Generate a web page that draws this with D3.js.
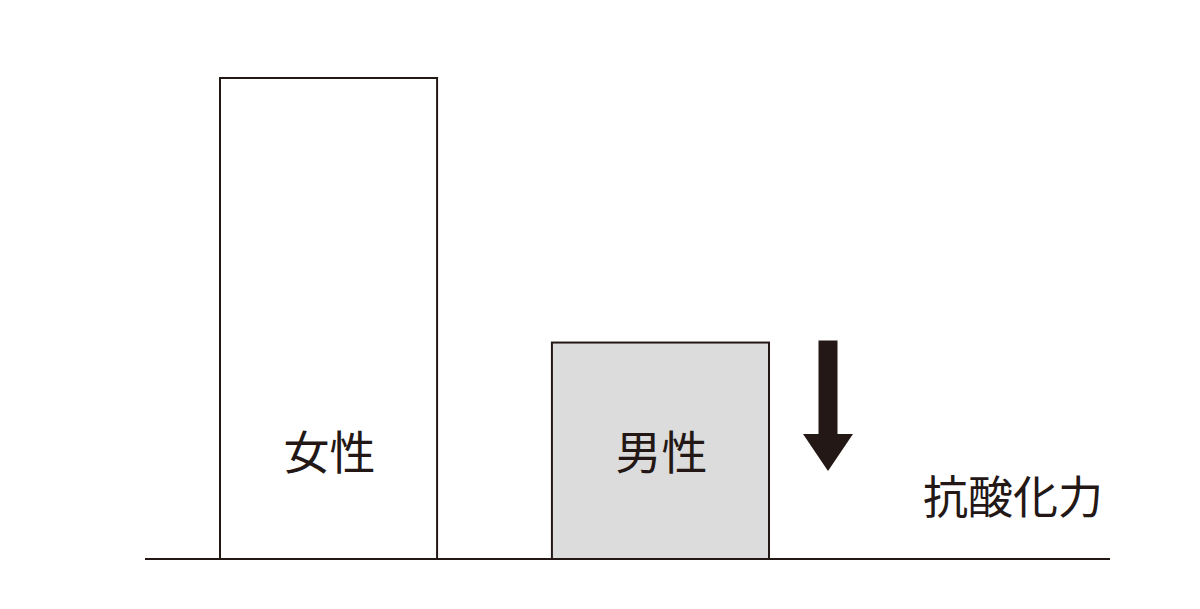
<!DOCTYPE html>
<html>
  <head>
    <meta charset="utf-8">
    <script src="https://d3js.org/d3.v7.min.js"></script>
    <style>
      html, body { margin: 0; padding: 0; background: #fff; }
      text { font-family: "Noto Sans CJK JP", "Noto Sans", sans-serif; fill: #231815; }
    </style>
  </head>
  <body>
    <div id="chart"></div>
    <script>
      // data
      const categories = ["女性", "男性"];
      const values = [100, 45];
      const fills = ["#ffffff", "#dcdcdc"];
      const axisLabel = "抗酸化力";

      const W = 1200, H = 609;
      const baseY = 559, topY = 78;

      const svg = d3.select("#chart").append("svg")
        .attr("width", W)
        .attr("height", H);

      const x = d3.scaleBand()
        .domain(categories)
        .range([220, 769])
        .paddingInner(0.346)
        .paddingOuter(0);

      const y = d3.scaleLinear()
        .domain([0, d3.max(values)])
        .range([baseY, topY]);

      const rows = categories.map((c, i) => ({ cat: c, value: values[i], fill: fills[i] }));

      // bars
      svg.selectAll("rect.bar")
        .data(rows)
        .enter()
        .append("rect")
        .attr("class", "bar")
        .attr("x", d => x(d.cat))
        .attr("y", d => y(d.value))
        .attr("width", x.bandwidth())
        .attr("height", d => baseY - y(d.value))
        .attr("fill", d => d.fill)
        .attr("stroke", "#231815")
        .attr("stroke-width", 2);

      // category labels inside the bars
      svg.selectAll("text.cat")
        .data(rows)
        .enter()
        .append("text")
        .attr("class", "cat")
        .attr("x", d => x(d.cat) + x.bandwidth() / 2 + 1)
        .attr("y", 469)
        .attr("text-anchor", "middle")
        .style("font-size", "46px")
        .text(d => d.cat);

      // baseline
      svg.append("line")
        .attr("x1", 145).attr("x2", 1110)
        .attr("y1", baseY).attr("y2", baseY)
        .attr("stroke", "#231815")
        .attr("stroke-width", 2);

      // down arrow next to the second bar
      const ax = x(categories[1]) + x.bandwidth() + 59;
      const arrowTop = y(values[1]) - 2;
      svg.append("path")
        .attr("d", `M${ax - 9.5},${arrowTop} L${ax + 9.5},${arrowTop} L${ax + 9.5},434 L${ax + 25},434 L${ax},471 L${ax - 25},434 L${ax - 9.5},434 Z`)
        .attr("fill", "#231815");

      // axis label
      svg.append("text")
        .attr("x", 1103)
        .attr("y", 514)
        .attr("text-anchor", "end")
        .style("font-size", "45px")
        .text(axisLabel);
    </script>
  </body>
</html>
